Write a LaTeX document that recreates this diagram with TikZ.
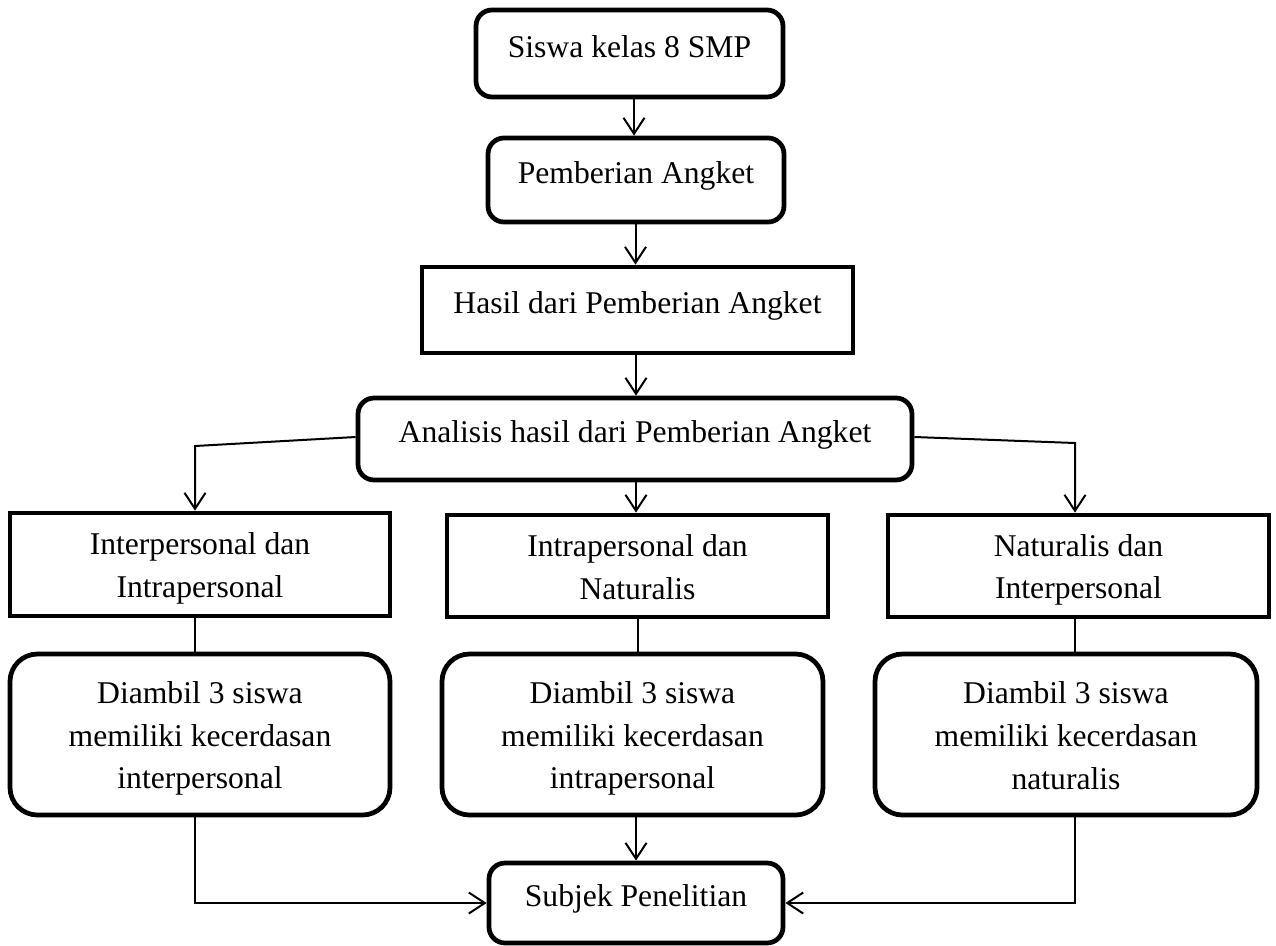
\documentclass[tikz,border=0pt]{standalone}
\usepackage{fontspec}
\setmainfont{Liberation Serif}
\usetikzlibrary{arrows.meta}
\newcommand{\mytop}{\rule{0pt}{0.60cm}}
\newcommand{\mybot}{\rule[-0.12cm]{0pt}{0.12cm}}
\begin{document}
\begin{tikzpicture}[
  box/.style={draw, line width=0.095cm, inner sep=0pt, align=center, font=\fontsize{18}{24.2}\selectfont},
  single/.style={text height=0.44cm, text depth=0.30cm},
  rbox/.style={box, single, rounded corners=0.32cm},
  sqbox/.style={box, single},
  twobox/.style={box},
  bigrbox/.style={box, rounded corners=0.55cm},
  conn/.style={line width=0.04cm},
  arr/.style={conn, -{Straight Barb[length=0.32cm,width=0.42cm]}},
]
\useasboundingbox (0,0) rectangle (25.52,-18.9);

% boxes
\node[rbox, minimum width=6.14cm, minimum height=1.74cm] (B1) at (12.59,-1.07) {Siswa kelas 8 SMP};
\node[rbox, minimum width=5.92cm, minimum height=1.68cm] (B2) at (12.72,-3.60) {Pemberian Angket};
\node[sqbox, minimum width=8.62cm, minimum height=1.72cm] (B3) at (12.75,-6.20) {Hasil dari Pemberian Angket};
\node[rbox, minimum width=11.08cm, minimum height=1.64cm] (B4) at (12.70,-8.78) {Analisis hasil dari Pemberian Angket};

\node[twobox, minimum width=7.60cm, minimum height=2.06cm] (B5) at (4.00,-11.29) {\mytop Interpersonal dan\\Intrapersonal\mybot};
\node[twobox, minimum width=7.62cm, minimum height=2.04cm] (B6) at (12.75,-11.32) {\mytop Intrapersonal dan\\Naturalis\mybot};
\node[twobox, minimum width=7.62cm, minimum height=2.04cm] (B7) at (21.57,-11.32) {\mytop Naturalis dan\\Interpersonal\mybot};

\node[bigrbox, minimum width=7.60cm, minimum height=3.22cm] (B8) at (4.00,-14.69) {\mytop Diambil 3 siswa\\memiliki kecerdasan\\interpersonal\mybot};
\node[bigrbox, minimum width=7.62cm, minimum height=3.22cm] (B9) at (12.65,-14.69) {\mytop Diambil 3 siswa\\memiliki kecerdasan\\intrapersonal\mybot};
\node[bigrbox, minimum width=7.64cm, minimum height=3.22cm] (B10) at (21.32,-14.69) {\mytop Diambil 3 siswa\\memiliki kecerdasan\\naturalis\mybot};

\node[rbox, minimum width=5.88cm, minimum height=1.60cm] (B11) at (12.72,-18.06) {Subjek Penelitian};

% helper coordinates for connector columns
\coordinate (xa) at (12.68,0);
\coordinate (xb) at (12.71,0);
\coordinate (xc) at (12.72,0);
\coordinate (xl) at (3.90,0);
\coordinate (xr) at (21.50,0);
\coordinate (xm) at (12.75,0);
\coordinate (lk) at (3.90,-8.92);
\coordinate (rk) at (21.50,-8.86);
\coordinate (yb) at (0,-18.06);

% connectors
\draw[arr] (B1.south -| xa) -- (B2.north -| xa);
\draw[arr] (B2.south -| xb) -- (B3.north -| xb);
\draw[arr] (B3.south -| xc) -- (B4.north -| xc);
\draw[arr] (B4.south -| xc) -- (B6.north -| xc);
\draw[arr] ([yshift=0.04cm]B4.west) -- (lk) -- (B5.north -| lk);
\draw[arr] ([yshift=0.04cm]B4.east) -- (rk) -- (B7.north -| rk);

\draw[conn] (B5.south -| xl) -- (B8.north -| xl);
\draw[conn] (B6.south -| xm) -- (B9.north -| xm);
\draw[conn] (B7.south -| xr) -- (B10.north -| xr);

\draw[arr] (B9.south -| xc) -- (B11.north -| xc);
\draw[arr] (B8.south -| xl) -- (xl |- yb) -- (B11.west);
\draw[arr] (B10.south -| xr) -- (xr |- yb) -- (B11.east);
\end{tikzpicture}
\end{document}
